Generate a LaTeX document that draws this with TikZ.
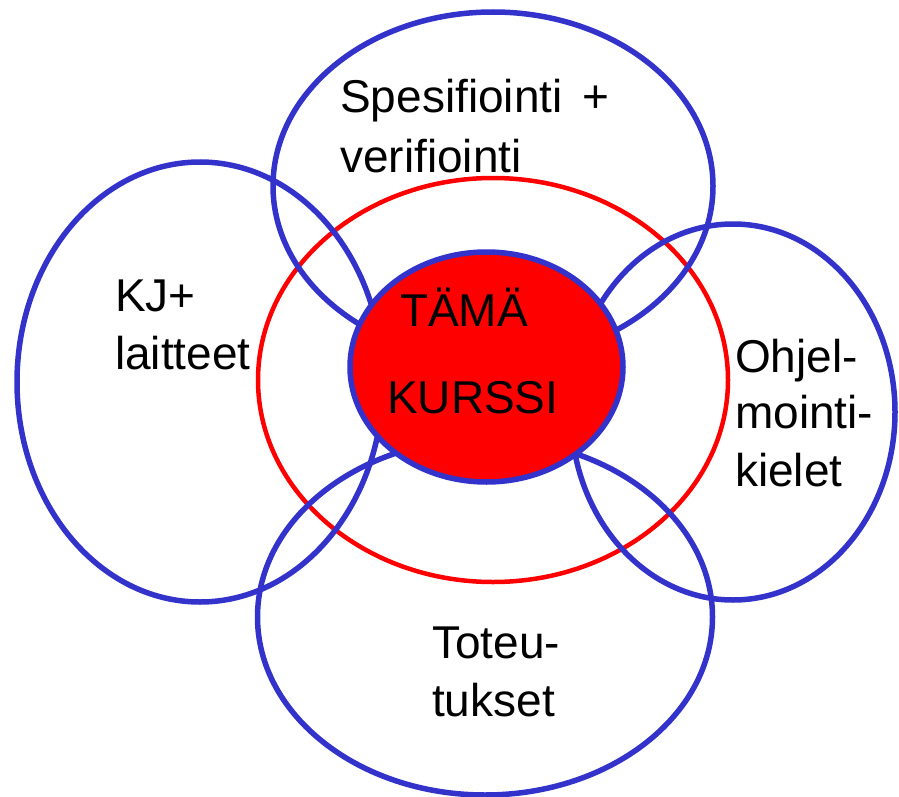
\documentclass[tikz,border=0pt]{standalone}
\usepackage{fontspec}
\setmainfont{Liberation Sans}
\usetikzlibrary{shapes.geometric}

\definecolor{areablue}{RGB}{51,51,204}

\begin{document}
\begin{tikzpicture}[x=1pt, y=-1pt]
  \tikzstyle{area}=[ellipse, draw = areablue, line width = 5.5pt, inner sep = 0pt]
  \tikzstyle{ring}=[ellipse, draw = red, line width = 4.5pt, inner sep = 0pt]
  \tikzstyle{topic}=[anchor = base west, inner sep = 0pt, font = \fontsize{46}{58}\selectfont]

  \useasboundingbox (0,0) rectangle (899,797);

  \node[ring, minimum width = 470pt, minimum height = 404pt] (ring) at (493, 380) {};

  \foreach \name/\x/\y/\w/\h in
    { laitteet/200/382/366/440
    , spesifiointi/493/186/440/348
    , kielet/733/412/324/376
    , toteutukset/485/617/455/356
    }
    \node[area, minimum width = \w pt, minimum height = \h pt] (\name) at (\x, \y) {};

  \node[area, fill = red, minimum width = 273pt, minimum height = 230pt] (kurssi) at (486.5, 367) {};

  % labels, first baseline
  \node[topic] (tama) at (400, 326) {TÄMÄ};
  \node[topic] (kurssiteksti) at (387, 413) {KURSSI};
  \node[topic] (spec1) at (340, 113) {Spesifiointi\hspace{20pt}+};
  \node[topic] (spec2) at (340, 172) {verifiointi};
  \node[topic] (kj1) at (115, 311) {KJ+};
  \node[topic] (kj2) at (115, 369) {laitteet};
  \node[topic] (ohj1) at (735, 372) {Ohjel-};
  \node[topic] (ohj2) at (735, 428) {mointi-};
  \node[topic] (ohj3) at (735, 486) {kielet};
  \node[topic] (tot1) at (432, 658) {Toteu-};
  \node[topic] (tot2) at (432, 716) {tukset};
\end{tikzpicture}
\end{document}
